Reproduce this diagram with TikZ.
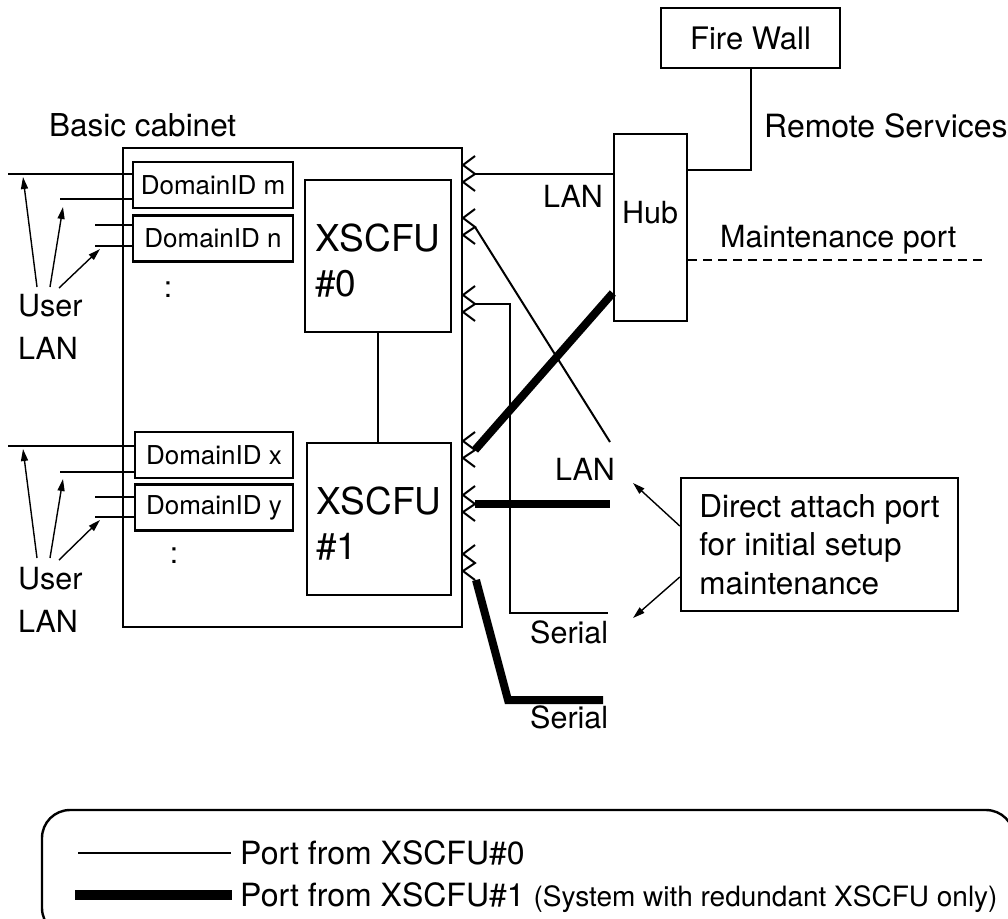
\documentclass[tikz,border=0pt]{standalone}
\usepackage{fontspec}
\setmainfont{TeX Gyre Heros}
\usetikzlibrary{arrows.meta}
\begin{document}
\begin{tikzpicture}[x=1pt,y=-1pt,
  box/.style={draw, line width=2.4pt, inner sep=0pt},
  dom/.style={box, minimum width=160pt, minimum height=46pt, font=\fontsize{26}{30}\selectfont},
  xs/.style={box, minimum width=146pt, minimum height=152pt, align=left, font=\fontsize{37}{45}\selectfont},
  lbl/.style={inner sep=0pt, anchor=base west, font=\fontsize{30.5}{36}\selectfont},
  thinln/.style={line width=2pt},
  thickln/.style={line width=8pt},
  arr/.style={line width=1.4pt, -{Triangle[length=12pt,width=7pt]}},
  portzz/.pic={
    \draw[line width=2pt] (12,-18) -- (0,-9) -- (12,0) -- (0,8) -- (12,17);
    \coordinate (-tip) at (12,0);
    \coordinate (-bot) at (12,17);
  }
]
\useasboundingbox (0,0) rectangle (1008,918);

% cabinet
\node[box, minimum width=339pt, minimum height=479pt] (cab) at (292.5,387.5) {};
\node[lbl, font=\fontsize{31.5}{36}\selectfont] (bc) at (49,136) {Basic cabinet};

% domain boxes
\node[dom] (dm) at (213,185) {DomainID m};
\node[dom] (dn) at (213,238.5) {DomainID n};
\node[dom, minimum width=158pt] (dx) at (214,455) {DomainID x};
\node[dom, minimum width=158pt] (dy) at (214,507.5) {DomainID y};
\node[font=\fontsize{30}{36}\selectfont, inner sep=0pt] (c1) at (168,290) {:};
\node[font=\fontsize{30}{36}\selectfont, inner sep=0pt] (c2) at (174,556) {:};

% XSCFU
\node[xs] (x0) at (378,256) {\rule{0pt}{37pt}XSCFU\\\#0};
\node[xs, minimum width=144pt] (x1) at (379,519) {\rule{0pt}{37pt}XSCFU\\\#1};
\draw[thinln] (x0.south) -- (x0.south |- x1.north);

% user LAN lines
\coordinate (um1) at (8,174);
\coordinate (um2) at (60,199);
\coordinate (un1) at (95,225);
\coordinate (un2) at (95,246);
\coordinate (ux1) at (8,446);
\coordinate (ux2) at (60,472);
\coordinate (uy1) at (95,497);
\coordinate (uy2) at (95,517);
\draw[thinln] (um1) -- (um1 -| dm.west);
\draw[thinln] (um2) -- (um2 -| dm.west);
\draw[thinln] (un1) -- (un1 -| dn.west);
\draw[thinln] (un2) -- (un2 -| dn.west);
\draw[thinln] (ux1) -- (ux1 -| dx.west);
\draw[thinln] (ux2) -- (ux2 -| dx.west);
\draw[thinln] (uy1) -- (uy1 -| dy.west);
\draw[thinln] (uy2) -- (uy2 -| dy.west);

\node[lbl, anchor=north west, align=left, font=\fontsize{30.5}{43}\selectfont] (ul1) at (18,294) {User\\LAN};
\node[lbl, anchor=north west, align=left, font=\fontsize{30.5}{43}\selectfont] (ul2) at (18,567) {User\\LAN};

\coordinate (a1s) at (37,287); \coordinate (a1t) at (23,177);
\coordinate (a2s) at (50,287); \coordinate (a2t) at (63,207);
\coordinate (a3s) at (59,288); \coordinate (a3t) at (100,249);
\coordinate (b1s) at (37,558); \coordinate (b1t) at (23,449);
\coordinate (b2s) at (50,558); \coordinate (b2t) at (63,479);
\coordinate (b3s) at (59,560); \coordinate (b3t) at (100,520);
\draw[arr] (a1s) -- (a1t);
\draw[arr] (a2s) -- (a2t);
\draw[arr] (a3s) -- (a3t);
\draw[arr] (b1s) -- (b1t);
\draw[arr] (b2s) -- (b2t);
\draw[arr] (b3s) -- (b3t);

% ports
\pic (p1) at (463,174) {portzz};
\pic (p2) at (463,227) {portzz};
\pic (p3) at (463,304) {portzz};
\pic (p4) at (463,450) {portzz};
\pic (p5) at (463,504) {portzz};
\pic (p6) at (463,563) {portzz};

% hub, fire wall
\node[box, minimum width=73pt, minimum height=187pt] (hub) at (650.5,227.5) {};
\node[lbl, anchor=center] (hubt) at (650,213) {Hub};
\node[box, minimum width=179pt, minimum height=60pt, font=\fontsize{31}{36}\selectfont] (fw) at (750.5,38) {Fire Wall};
\draw[thinln] (fw.south) |- (hub.east |- 0,170);
\node[lbl, font=\fontsize{32}{36}\selectfont] (rs) at (764,137) {Remote Services};
\node[lbl] (mp) at (720,247) {Maintenance port};
\coordinate (mpe) at (982,260);
\draw[thinln, dash pattern=on 9pt off 6pt] (hub.east |- mpe) -- (mpe);

% connectors from XSCFU#0
\draw[thinln] (p1-tip) -- (p1-tip -| hub.west);
\node[lbl] (lan1) at (543,207) {LAN};
\coordinate (lanend) at (610,442);
\draw[thinln] (p2-tip) -- (lanend);
\coordinate (s1c) at (510,613);
\coordinate (s1e) at (608,613);
\draw[thinln] (p3-tip) -| (s1c) -- (s1e);

% connectors from XSCFU#1
\draw[thickln] (p4-tip) -- ([yshift=-65.5pt]hub.west);
\coordinate (t5e) at (610,504);
\draw[thickln] (p5-tip) -- (t5e);
\coordinate (t6c) at (508,700);
\coordinate (t6e) at (603,700);
\draw[thickln] ([xshift=1pt]p6-bot) -- (t6c) -- (t6e);

\node[lbl] (lan2) at (555,480) {LAN};
\node[lbl] (ser1) at (530,643) {Serial};
\node[lbl] (ser2) at (530,728) {Serial};

% direct attach
\node[box, minimum width=277pt, minimum height=133pt, align=left, font=\fontsize{31.5}{38.5}\selectfont] (da) at (819.5,544.5) {Direct attach port\\for initial setup\\maintenance};
\coordinate (dat1) at (633,483);
\coordinate (dat2) at (633,618);
\draw[arr] ([yshift=18.5pt]da.west) -- (dat1);
\draw[arr] ([yshift=-32.5pt]da.west) -- (dat2);

% legend
\node[draw, line width=2.4pt, rounded corners=28pt, minimum width=972pt, minimum height=126pt] (leg) at (528,873) {};
\coordinate (l1a) at (78,853); \coordinate (l1b) at (231,853);
\draw[thinln] (l1a) -- (l1b);
\coordinate (l2a) at (75,895); \coordinate (l2b) at (232,895);
\draw[line width=10pt] (l2a) -- (l2b);
\node[lbl, font=\fontsize{32}{36}\selectfont] (lt1) at (240,864) {Port from XSCFU\#0};
\node[lbl, font=\fontsize{32}{36}\selectfont] (lt2) at (240,906) {Port from XSCFU\#1 {\fontsize{28}{30}\selectfont (System with redundant XSCFU only)}};
\end{tikzpicture}
\end{document}
